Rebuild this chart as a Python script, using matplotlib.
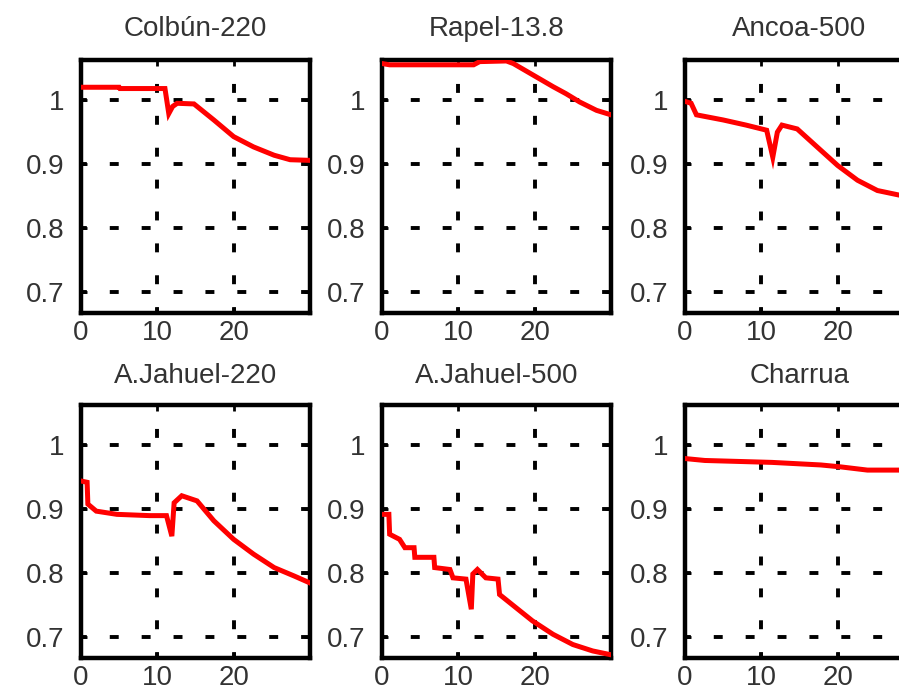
import matplotlib
matplotlib.use("Agg")
import matplotlib.pyplot as plt

# bus names and voltage profiles (p.u.) vs time
TITLES = ["Colbún-220", "Rapel-13.8", "Ancoa-500",
          "A.Jahuel-220", "A.Jahuel-500", "Charrua"]

colbun_t = [0, 5, 5.1, 11.0, 11.5, 12.0, 12.6, 14.8, 17.4, 20.0, 22.6, 25.3, 27.4, 30]
colbun_v = [1.020, 1.020, 1.018, 1.018, 0.979, 0.990, 0.995, 0.994, 0.969, 0.943, 0.927, 0.914, 0.907, 0.906]

rapel_t = [0, 1, 12.0, 12.8, 16.3, 17.2, 19.8, 22.4, 24.1, 25.9, 28.1, 30]
rapel_v = [1.057, 1.055, 1.055, 1.060, 1.061, 1.057, 1.039, 1.021, 1.010, 0.997, 0.984, 0.977]

ancoa_t = [0, 0.8, 1.5, 5.0, 8.0, 10.7, 11.5, 12.1, 12.7, 14.7, 17.3, 20.0, 22.6, 25.2, 28.0, 30]
ancoa_v = [0.998, 0.995, 0.977, 0.969, 0.961, 0.953, 0.911, 0.950, 0.961, 0.955, 0.927, 0.898, 0.875, 0.859, 0.852, 0.848]

jah220_t = [0, 0.8, 0.9, 2.0, 4.7, 9.0, 11.2, 11.9, 12.2, 13.2, 15.2, 17.4, 20.0, 22.6, 25.3, 27.9, 30]
jah220_v = [0.944, 0.942, 0.908, 0.897, 0.892, 0.890, 0.890, 0.858, 0.910, 0.921, 0.913, 0.882, 0.853, 0.830, 0.809, 0.796, 0.785]

jah500_t = [0, 0.9, 1.0, 2.3, 3.0, 4.2, 4.3, 6.8, 6.9, 8.9, 9.3, 11.0, 11.7, 11.9, 12.5, 13.6, 15.2, 15.4,
            17.6, 19.7, 22.4, 25.0, 27.6, 30]
jah500_v = [0.892, 0.892, 0.861, 0.853, 0.840, 0.840, 0.825, 0.825, 0.809, 0.806, 0.793, 0.791, 0.744, 0.799,
            0.806, 0.793, 0.791, 0.767, 0.746, 0.726, 0.705, 0.689, 0.679, 0.673]

charrua_t = [0, 2.6, 11.4, 17.8, 20.4, 23.9, 28.0, 30]
charrua_v = [0.979, 0.976, 0.973, 0.969, 0.966, 0.961, 0.961, 0.960]

SERIES = [(colbun_t, colbun_v), (rapel_t, rapel_v), (ancoa_t, ancoa_v),
          (jah220_t, jah220_v), (jah500_t, jah500_v), (charrua_t, charrua_v)]

W, H = 899, 698
fig = plt.figure(figsize=(W / 100, H / 100), dpi=100)
plt.rcParams["font.family"] = ["Liberation Sans", "DejaVu Sans"]

lefts = [81, 382, 685]
tops = [60, 405]
aw, ah = 229, 253
title_pads = [17, 16]

for i, (title, (t, v)) in enumerate(zip(TITLES, SERIES)):
    row, col = divmod(i, 3)
    x0 = lefts[col] / W
    y0 = (H - tops[row] - ah) / H
    ax = fig.add_axes([x0, y0, aw / W, ah / H])
    ax.plot(t, v, color="#ff0000", lw=3.6, solid_joinstyle="miter", zorder=3)
    ax.set_xlim(0, 30)
    ax.set_ylim(0.668, 1.0625)
    ax.set_xticks([0, 10, 20])
    ax.set_yticks([0.7, 0.8, 0.9, 1.0])
    ax.set_yticklabels(["0.7", "0.8", "0.9", "1"])
    ax.grid(True, color="black", lw=2.8, linestyle=(0.8, (2.3, 5.9)))
    ax.tick_params(direction="in", length=4, width=2, top=True, right=True,
                   labelsize=20, colors="black", labelcolor="#333333")
    ax.tick_params(axis="y", pad=12)
    ax.tick_params(axis="x", pad=5)
    for sp in ax.spines.values():
        sp.set_linewidth(3.2)
    ax.set_title(title, fontsize=20, color="#333333", pad=title_pads[row])

fig.savefig("out.png", dpi=100)
